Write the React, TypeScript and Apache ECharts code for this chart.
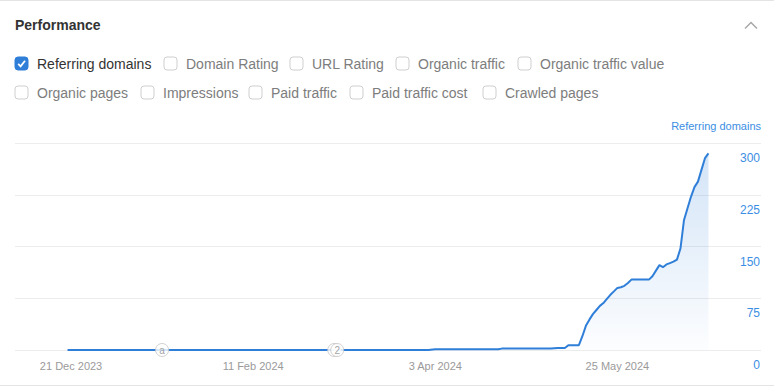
import React, { useEffect, useRef } from "react";
import * as echarts from "echarts";

// ---- data ----
const originDate = "2023-12-21";
const pointDates = [
  "2023-12-20", "2024-04-01", "2024-04-03", "2024-04-21", "2024-04-22", "2024-05-06",
  "2024-05-08", "2024-05-10", "2024-05-11", "2024-05-14", "2024-05-15", "2024-05-16",
  "2024-05-17", "2024-05-18", "2024-05-19", "2024-05-20", "2024-05-21", "2024-05-22",
  "2024-05-23", "2024-05-24", "2024-05-25", "2024-05-26", "2024-05-27", "2024-05-28",
  "2024-05-29", "2024-06-03", "2024-06-04", "2024-06-05", "2024-06-06", "2024-06-07",
  "2024-06-08", "2024-06-09", "2024-06-10", "2024-06-11", "2024-06-12", "2024-06-13",
  "2024-06-14", "2024-06-15", "2024-06-16", "2024-06-17", "2024-06-18", "2024-06-19",
  "2024-06-20",
];
const referringDomains = [
  0, 0, 1, 1, 2, 2,
  3, 3, 7, 7, 20, 35,
  44, 52, 58, 64, 68, 74,
  80, 85, 90, 91, 93, 97,
  102, 102, 107, 115, 123, 120,
  124, 126, 128, 131, 147, 188,
  205, 222, 236, 244, 261, 278,
  285,
];
const xTickDates = ["2023-12-21", "2024-02-11", "2024-04-03", "2024-05-25"];
const xTickLabels = ["21 Dec 2023", "11 Feb 2024", "3 Apr 2024", "25 May 2024"];
const annotationDates = ["2024-01-16", "2024-03-06"];
const annotationLabels = ["a", "2"];
const annotationCounts = [1, 2];
const row1Labels = ["Referring domains", "Domain Rating", "URL Rating", "Organic traffic", "Organic traffic value"];
const row2Labels = ["Organic pages", "Impressions", "Paid traffic", "Paid traffic cost", "Crawled pages"];
const row1Checked = [true, false, false, false, false];
const row2Checked = [false, false, false, false, false];

// ---- layout ----
const row1X = [15, 164, 290, 396, 518];
const row2X = [15, 141, 249, 350, 483];
const row1Y = 57;
const row2Y = 86;
const FONT = "'Liberation Sans', Arial, Helvetica, sans-serif";
const BLUE = "#2f7fd9";

const DAY = 86400000;
function toDay(s: string) {
  const [y, m, d] = s.split("-").map(Number);
  const [oy, om, od] = originDate.split("-").map(Number);
  return Math.round((Date.UTC(y, m - 1, d) - Date.UTC(oy, om - 1, od)) / DAY);
}

function checkbox(x: number, y: number, label: string, checked: boolean) {
  const els: any[] = [
    {
      type: "rect",
      shape: { x, y, width: 13, height: 13, r: 3 },
      style: checked ? { fill: BLUE, stroke: BLUE, lineWidth: 1 } : { fill: "#fff", stroke: "#cfcfcf", lineWidth: 1 },
    },
  ];
  if (checked) {
    els.push({
      type: "polyline",
      shape: { points: [[x + 3.2, y + 6.8], [x + 5.6, y + 9.3], [x + 10, y + 3.8]] },
      style: { stroke: "#fff", lineWidth: 1.8, fill: null },
    });
  }
  els.push({
    type: "text",
    x: x + 22,
    y: y + 7,
    style: {
      text: label,
      fill: checked ? "#333" : "#7d7d7d",
      font: `14px ${FONT}`,
      textAlign: "left",
      textVerticalAlign: "middle",
      align: "left",
      verticalAlign: "middle",
    },
  });
  return els;
}

export default function App() {
  const ref = useRef<HTMLDivElement>(null);
  useEffect(() => {
    if (!ref.current) return;
    const chart = echarts.init(ref.current, undefined, { renderer: "svg" });
    const lineData = pointDates.map((d, i) => [toDay(d), referringDomains[i]]);
    const tickDays = xTickDates.map(toDay);
    const annData: any[] = [];
    annotationDates.forEach((d, i) => {
      if (annotationCounts[i] > 1) {
        annData.push({ value: [toDay(d), 0], symbolOffset: [-3, 0], label: { show: false } });
      }
      annData.push({ value: [toDay(d), 0], label: { show: true, formatter: annotationLabels[i] } });
    });
    const graphics: any[] = [
      { type: "line", shape: { x1: 0, y1: 0.5, x2: 774, y2: 0.5 }, style: { stroke: "#e4e4e4", lineWidth: 1 } },
      { type: "line", shape: { x1: 0, y1: 385.5, x2: 774, y2: 385.5 }, style: { stroke: "#e4e4e4", lineWidth: 1 } },
      {
        type: "text",
        x: 15,
        y: 25,
        style: {
          text: "Performance",
          fill: "#333",
          font: `bold 14px ${FONT}`,
          textVerticalAlign: "middle",
          verticalAlign: "middle",
        },
      },
      {
        type: "polyline",
        shape: { points: [[745, 28.5], [751, 22.5], [757, 28.5]] },
        style: { stroke: "#a8a8a8", lineWidth: 1.5, fill: null },
      },
      {
        type: "text",
        x: 761,
        y: 126,
        style: {
          text: "Referring domains",
          fill: "#3b8ee3",
          font: `11px ${FONT}`,
          textAlign: "right",
          align: "right",
          textVerticalAlign: "middle",
          verticalAlign: "middle",
        },
      },
    ];
    row1Labels.forEach((l, i) => graphics.push(...checkbox(row1X[i], row1Y, l, row1Checked[i])));
    row2Labels.forEach((l, i) => graphics.push(...checkbox(row2X[i], row2Y, l, row2Checked[i])));

    chart.setOption({
      animation: false,
      grid: { left: 15, right: 13, top: 143, bottom: 38, containLabel: false },
      graphic: graphics,
      xAxis: {
        type: "value",
        min: -16,
        max: 197,
        interval: 4,
        axisLine: { show: false },
        axisTick: { show: false },
        splitLine: { show: false },
        axisLabel: {
          showMinLabel: false,
          showMaxLabel: false,
          margin: 10,
          color: "#9a9a9a",
          fontSize: 11,
          fontFamily: FONT,
          formatter: (v: number) => {
            const idx = tickDays.indexOf(Math.round(v));
            return idx >= 0 ? xTickLabels[idx] : "";
          },
        },
      },
      yAxis: {
        type: "value",
        position: "right",
        min: 0,
        max: 300,
        interval: 75,
        axisLine: { show: false },
        axisTick: { show: false },
        splitLine: { lineStyle: { color: "#ececec", width: 1 } },
        axisLabel: {
          inside: true,
          margin: 1,
          color: "#3b8ee3",
          fontSize: 12,
          fontFamily: FONT,
          verticalAlign: "top",
          padding: [9, 0, 0, 0],
        },
      },
      series: [
        {
          type: "line",
          data: lineData,
          showSymbol: false,
          symbol: "none",
          lineStyle: { color: BLUE, width: 2 },
          itemStyle: { color: BLUE },
          areaStyle: {
            color: new echarts.graphic.LinearGradient(0, 0, 0, 1, [
              { offset: 0, color: "rgba(47,127,217,0.30)" },
              { offset: 1, color: "rgba(47,127,217,0.02)" },
            ]),
          },
          z: 2,
        },
        {
          type: "scatter",
          data: annData,
          symbol: "circle",
          symbolSize: 13,
          itemStyle: { color: "#fff", borderColor: "#c4c4c4", borderWidth: 1 },
          label: { show: true, position: "inside", color: "#8a8a8a", fontSize: 10, fontFamily: FONT },
          z: 5,
        },
      ],
    });
    return () => chart.dispose();
  }, []);
  return <div ref={ref} style={{ position: "fixed", left: 0, top: 0, width: 774, height: 388, background: "#fff" }} />;
}
